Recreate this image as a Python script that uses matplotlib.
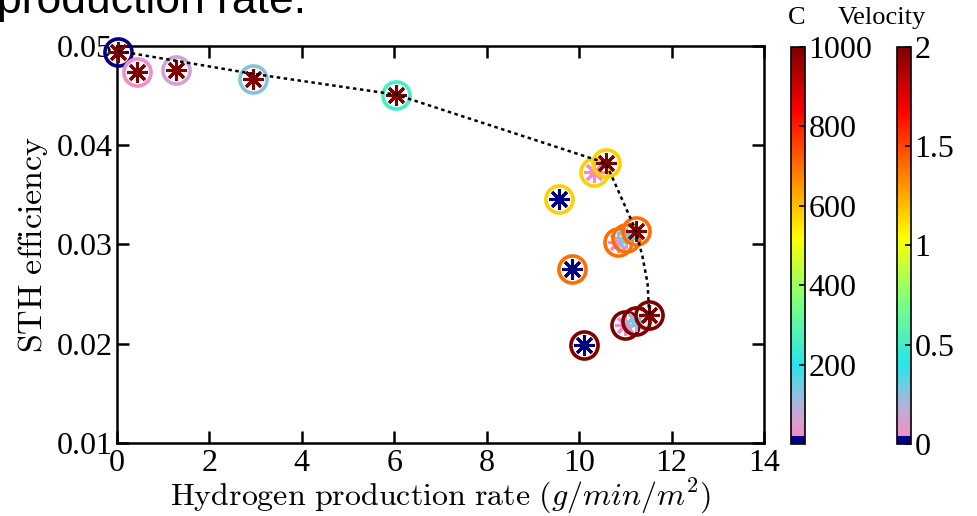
import matplotlib
matplotlib.use('Agg')
import matplotlib.pyplot as plt
import numpy as np
from matplotlib.colors import LinearSegmentedColormap, Normalize
from matplotlib.cm import ScalarMappable

plt.rcParams['font.family'] = 'Liberation Serif'
plt.rcParams['mathtext.fontset'] = 'cm'
plt.rcParams['axes.linewidth'] = 1.8

# measured points: circle colour = C, asterisk colour = velocity
pt_x = [0.02, 0.43, 1.27, 2.94, 6.04,
        10.33, 10.58, 9.57,
        10.85, 11.01, 11.22, 9.84,
        10.99, 11.22, 11.51, 10.11]
pt_y = [0.0494, 0.0474, 0.0476, 0.0467, 0.0451,
        0.0373, 0.0382, 0.0346,
        0.0303, 0.0307, 0.0314, 0.0275,
        0.0219, 0.0223, 0.0229, 0.0199]
pt_C = [0, 25, 70, 130, 250,
        580, 580, 580,
        700, 700, 700, 700,
        1000, 1000, 1000, 1000]
pt_v = [2, 2, 2, 2, 2,
        0.04, 2, 0,
        0.04, 0.26, 2, 0,
        0.04, 0.26, 2, 0]

# dotted front line
front_x = [0.02, 2.94, 6.04, 10.58, 11.22, 11.37, 11.48, 11.52]
front_y = [0.0495, 0.0472, 0.0451, 0.0382, 0.0315, 0.0288, 0.0261, 0.0227]

xticks = [0, 2, 4, 6, 8, 10, 12, 14]
yticks = [0.01, 0.02, 0.03, 0.04, 0.05]
c_ticks = [200, 400, 600, 800, 1000]
v_ticks = [0, 0.5, 1, 1.5, 2]

# colour map: navy step, pink -> lilac -> light blue -> upper part of jet
cmap = LinearSegmentedColormap.from_list('pinkjet', [
    (0.0, (0.0, 0.0, 0.5)),
    (0.016, (0.0, 0.0, 0.55)),
    (0.017, (0.95, 0.55, 0.77)),
    (0.07, (0.80, 0.65, 0.83)),
    (0.13, (0.52, 0.77, 0.88)),
    (0.2, (0.15, 0.9, 0.92)),
    (0.36, (0.5, 1.0, 0.5)),
    (0.52, (1.0, 1.0, 0.0)),
    (0.68, (1.0, 0.5, 0.0)),
    (0.84, (1.0, 0.0, 0.0)),
    (1.0, (0.5, 0.0, 0.0)),
], N=256)
normC = Normalize(0, 1000)
normV = Normalize(0, 2)

fig = plt.figure(figsize=(9.77, 5.16), dpi=100)
W, H = 977, 516
ax = fig.add_axes([117 / W, 1 - 443 / H, (764 - 117) / W, (443 - 46) / H])

for x, y, c, v in zip(pt_x, pt_y, pt_C, pt_v):
    ax.plot(x, y, 'o', ms=19.5, mfc='none', mec=cmap(normC(c)), mew=2.6, zorder=3, clip_on=False)
    ax.plot(x, y, marker=(8, 2, 0), ms=15, mec=cmap(normV(v)), mew=2.2, ls='none', zorder=3, clip_on=False)

ax.plot(front_x, front_y, color='black', lw=1.8, ls=(0, (1.4, 1.4)), zorder=4)

ax.set_xlim(0, 14)
ax.set_ylim(0.01, 0.05)
ax.set_xticks(xticks)
ax.set_xticklabels([str(t) for t in xticks])
ax.set_yticks(yticks)
ax.set_yticklabels(['%.2f' % t for t in yticks])
ax.tick_params(direction='in', length=8.5, width=1.8, top=True, right=True, labelsize=23)
ax.tick_params(axis='x', pad=4.5)
ax.tick_params(axis='y', pad=3)
ax.set_xlabel(r'$\mathrm{Hydrogen\ production\ rate}\ (g/min/m^2)$', fontsize=23)
ax.xaxis.set_label_coords(0.5, (443 - 477) / 397)
ax.set_ylabel(r'$\mathrm{STH\ efficiency}$', fontsize=24.5)
ax.yaxis.set_label_coords((50 - 117) / 647, 0.5)

# colour bars
cax1 = fig.add_axes([791 / W, 1 - 444 / H, 13.5 / W, 397 / H])
cax2 = fig.add_axes([897 / W, 1 - 444 / H, 13.5 / W, 397 / H])
cb1 = fig.colorbar(ScalarMappable(normC, cmap), cax=cax1)
cb2 = fig.colorbar(ScalarMappable(normV, cmap), cax=cax2)
cb1.set_ticks(c_ticks)
cb1.set_ticklabels([str(t) for t in c_ticks])
cb2.set_ticks(v_ticks)
cb2.set_ticklabels(['0', '0.5', '1', '1.5', '2'])
for cb in (cb1, cb2):
    cb.outline.set_linewidth(1.2)
    cb.ax.tick_params(direction='in', length=4, width=1.2, labelsize=23, pad=3)

fig.text(797 / W, 1 - 18 / H, 'C', fontsize=19, ha='center', va='center')
fig.text(882 / W, 1 - 18 / H, 'Velocity', fontsize=19, ha='center', va='center')

# cropped slide caption at the very top
fig.text(-3 / W, 1 - 13 / H, 'production rate.', fontsize=32, family='Liberation Sans',
         ha='left', va='baseline')

fig.savefig('out.png', dpi=100)
